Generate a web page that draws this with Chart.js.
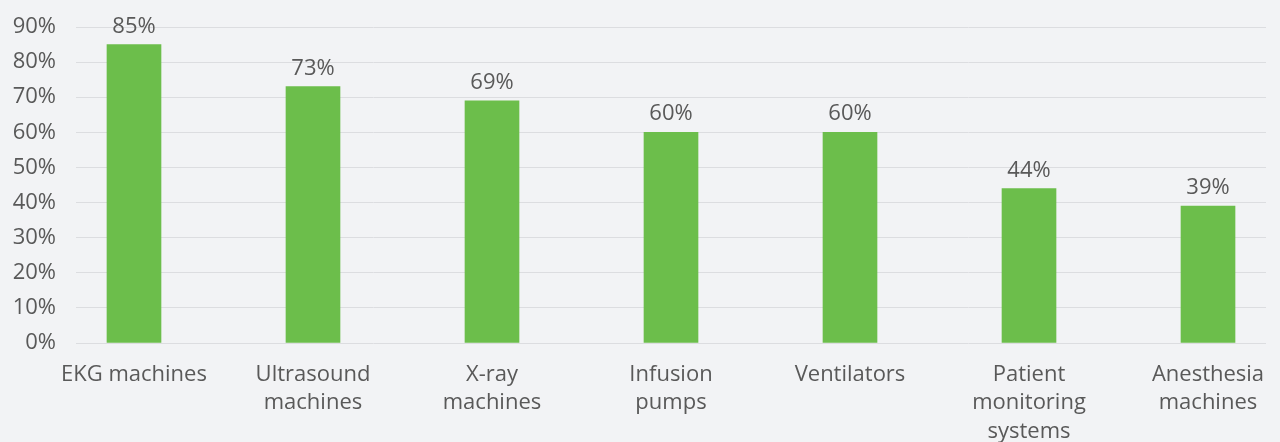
<!DOCTYPE html>
<html lang="en">
<head>
    <meta charset="UTF-8">
    <title>Medical equipment</title>
    <script src="https://cdn.jsdelivr.net/npm/chart.js"></script>
    <style>
        html, body { margin: 0; padding: 0; background: #f2f3f5; }
        #wrap { width: 1280px; height: 442px; position: relative; }
    </style>
</head>
<body>
    <div id="wrap"><canvas id="equipChart"></canvas></div>

    <script>
        // data
        const categories = [
            ["EKG machines"],
            ["Ultrasound", "machines"],
            ["X-ray", "machines"],
            ["Infusion", "pumps"],
            ["Ventilators"],
            ["Patient", "monitoring", "systems"],
            ["Anesthesia", "machines"]
        ];
        const shares = [85, 73, 69, 60, 60, 44, 39];
        const yTicks = [0, 10, 20, 30, 40, 50, 60, 70, 80, 90];

        const fontFamily = "'Open Sans', sans-serif";
        const textColor = "#595959";

        // value labels above the bars
        const valueLabels = {
            id: "valueLabels",
            afterDatasetsDraw(chart) {
                const ctx = chart.ctx;
                const meta = chart.getDatasetMeta(0);
                ctx.save();
                ctx.font = "22px " + fontFamily;
                ctx.fillStyle = textColor;
                ctx.textAlign = "center";
                ctx.textBaseline = "alphabetic";
                meta.data.forEach((bar, i) => {
                    ctx.fillText(shares[i] + "%", bar.x, bar.y - 12);
                });
                ctx.restore();
            }
        };

        new Chart(document.getElementById("equipChart").getContext("2d"), {
            type: "bar",
            data: {
                datasets: [{
                    data: shares.map((v, i) => ({ x: i, y: v })),
                    backgroundColor: "#6cbe4b",
                    barThickness: 54
                }]
            },
            options: {
                responsive: true,
                maintainAspectRatio: false,
                animation: false,
                layout: { padding: { top: 27, right: 14, left: 0, bottom: 0 } },
                plugins: { legend: { display: false }, tooltip: { enabled: false } },
                scales: {
                    x: {
                        type: "linear",
                        offset: false,
                        min: -0.324,
                        max: 6.324,
                        grid: { display: false },
                        border: { display: false },
                        afterBuildTicks: axis => {
                            axis.ticks = categories.map((c, i) => ({ value: i }));
                        },
                        // fixed band for the labels, no extra side padding
                        afterFit: axis => {
                            axis.height = 99;
                            axis.paddingLeft = 0;
                            axis.paddingRight = 0;
                        },
                        ticks: {
                            autoSkip: false,
                            maxRotation: 0,
                            padding: 9,
                            color: textColor,
                            font: { family: fontFamily, size: 22, lineHeight: 1.3 },
                            callback: v => categories[v]
                        }
                    },
                    y: {
                        min: 0,
                        max: 90,
                        afterBuildTicks: axis => {
                            axis.ticks = yTicks.map(v => ({ value: v }));
                        },
                        afterFit: axis => {
                            axis.width = 76;
                            axis.paddingTop = 0;
                            axis.paddingBottom = 0;
                        },
                        grid: { color: "#dcdde0", lineWidth: 1, drawTicks: false },
                        border: { display: false },
                        ticks: {
                            padding: 20,
                            color: textColor,
                            font: { family: fontFamily, size: 22 },
                            callback: v => v + "%"
                        }
                    }
                }
            },
            plugins: [valueLabels]
        });
    </script>
</body>
</html>
